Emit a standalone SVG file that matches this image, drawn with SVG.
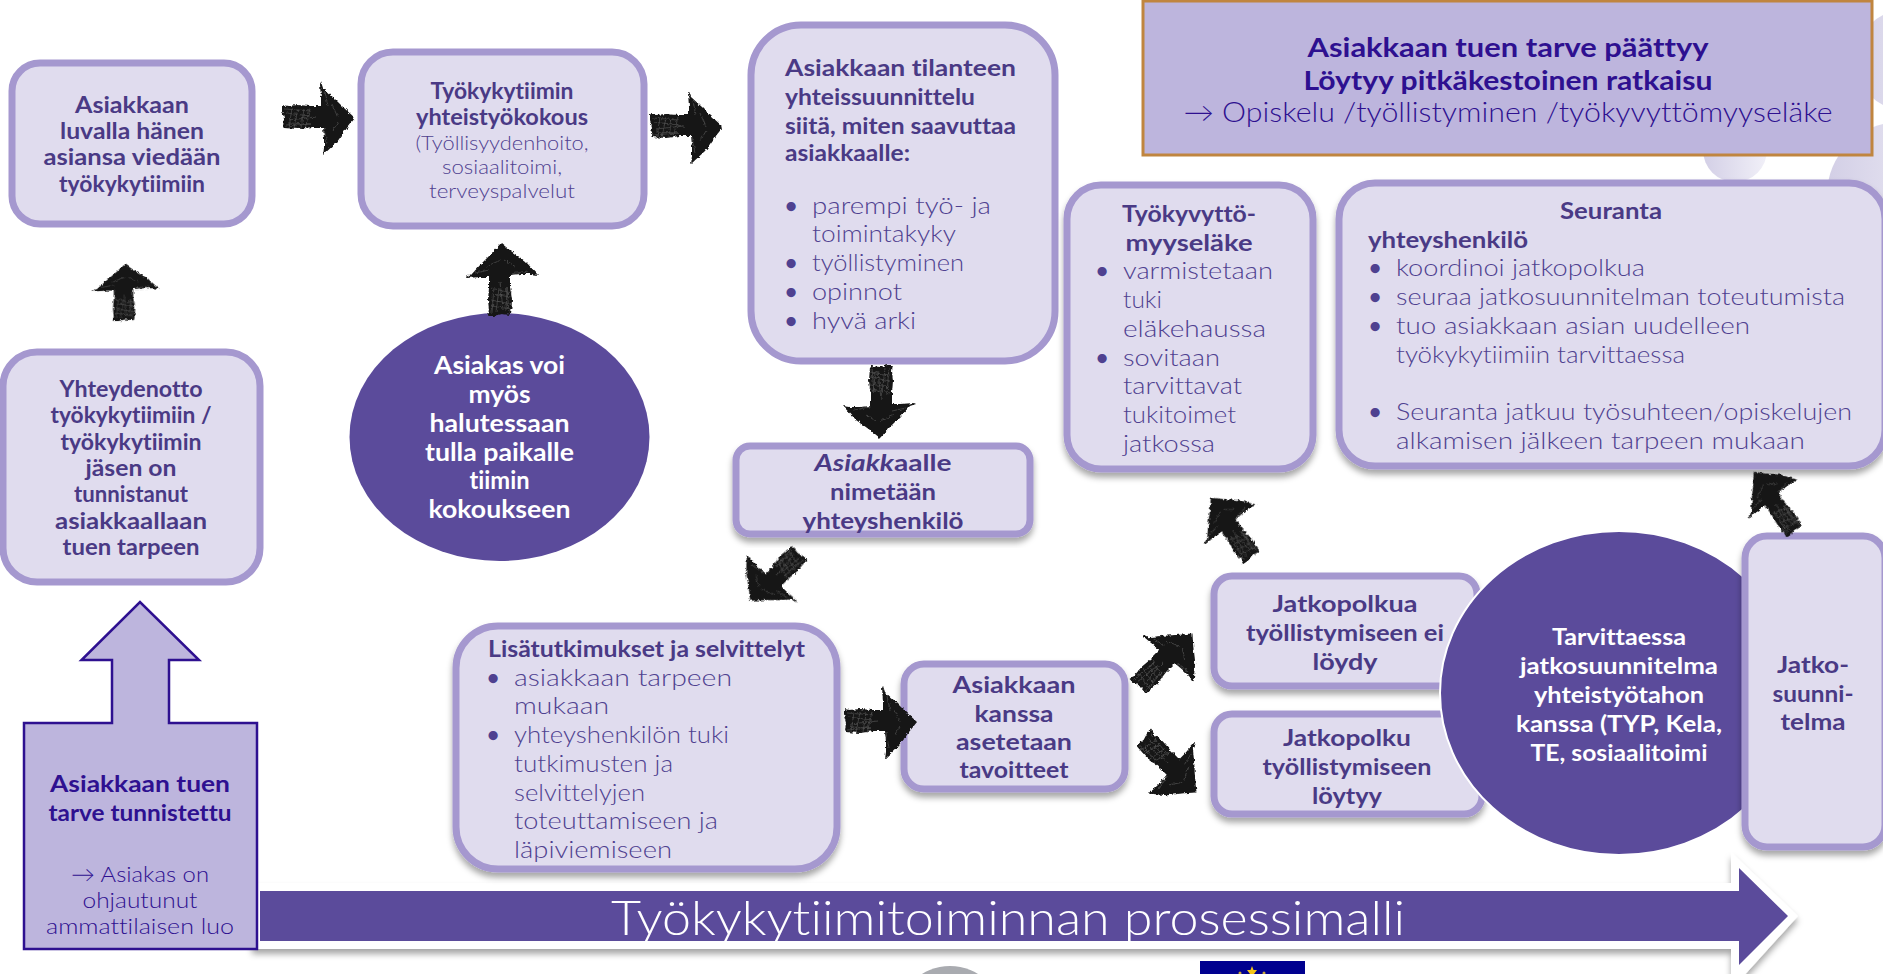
<svg xmlns="http://www.w3.org/2000/svg" width="1883" height="974" viewBox="0 0 1883 974">
<style>
text{font-family:"Lato","Liberation Sans",sans-serif;font-size:22px;fill:#4f4190;font-variant-ligatures:none}
.b{font-weight:700;fill:#4a3a85}
.l{font-weight:300}
.t{font-size:23.500px}
.s{font-size:20px}
.m{text-anchor:middle}
.w{font-weight:700;fill:#fff;font-size:24px}
.u{font-size:21px;font-weight:700}
.d{fill:#2e1090}
.box{fill:#e0dcee;stroke:#a598cf;stroke-width:7}
.el{fill:#5b4b9b}
.pa{fill:#bdb5dd;stroke:#2e1090;stroke-width:2.500}
</style>
<defs>
<filter id="sh" x="-10%" y="-10%" width="120%" height="125%"><feDropShadow dx="0" dy="5" stdDeviation="3" flood-color="#000" flood-opacity=".35"/></filter>
<filter id="rough" filterUnits="userSpaceOnUse" x="0" y="0" width="1883" height="974"><feTurbulence type="fractalNoise" baseFrequency=".3" numOctaves="2" seed="4"/><feDisplacementMap in="SourceGraphic" scale="4" xChannelSelector="R" yChannelSelector="G"/></filter>
<linearGradient id="dec" x1="0" x2="1" y1="0" y2="0"><stop offset="0" stop-color="#d3cfe6"/><stop offset="1" stop-color="#f1f0f8"/></linearGradient>
<g id="sk">
<path fill="#171717" d="M-36-13l6 1 10-1 12 1 11 0 0-8-1-14 1-2 2 6 11 10 9 9 12 11-8 10-10 14-14 13 1-7 0-10-1-11-11 0-14 2-14-1-1-1 1-9-2-7z"/>
<path fill="none" stroke="#5a5a5a" stroke-width=".6" d="M-33-9l26 2M-32-5l24 3M-30 2l28-3M-33 8l25-2M-30 5l22 1M-26-10l-3 20M-20-10l-4 20M-14-9l-3 19M-8-10l-5 21M7-26l3 14M6 10l3 16M14-14l6 14M14 14l6-10"/>
</g>
</defs>
<rect width="1883" height="974" fill="#fff"/>
<g id="decor" fill="url(#dec)">
<circle cx="1735" cy="150" r="32"/>
<circle cx="1900" cy="195" r="73"/>
<circle cx="1905" cy="60" r="50"/>
</g>
<g id="bottom">
<circle cx="950" cy="1019" r="53" fill="#a9abb0"/>
<rect x="1200" y="961" width="105" height="13" fill="#00008f"/>
<polygon points="1252,966 1253.500,970 1257,970 1254,974 1250,974 1247,970 1250.500,970" fill="#f5c518"/>
<circle cx="1240" cy="973" r="1.500" fill="#c9a83a"/>
<circle cx="1264" cy="973" r="1.500" fill="#c9a83a"/>
</g>
<g id="process-arrow">
<polygon points="252,883 1731,883 1731,852 1798,916 1731,990 1731,949 252,949" fill="#fff" filter="url(#sh)"/>
<polygon points="260,891 1739,891 1739,868 1788,916 1739,965 1739,941 260,941" fill="#5b4b9b"/>
<text x="1008" y="935" class="l m" style="font-size:47px;fill:#fff" textLength="794" lengthAdjust="spacingAndGlyphs">Työkykytiimitoiminnan prosessimalli</text>
</g>
<g id="n-need">
<polygon class="pa" points="24,723 112,723 112,660 81.500,660 140,602 199,660 169,660 169,723 257,723 257,949 24,949"/>
<text x="140" y="792" class="b m t" style="fill:#2e1090" textLength="180" lengthAdjust="spacingAndGlyphs">Asiakkaan tuen</text>
<text x="140" y="821" class="b m t" style="fill:#2e1090" textLength="183" lengthAdjust="spacingAndGlyphs">tarve tunnistettu</text>
<text x="140" y="882" class="l m" style="fill:#2e1090" textLength="138" lengthAdjust="spacingAndGlyphs">→ Asiakas on</text>
<text x="140" y="908" class="l m" style="fill:#2e1090" textLength="115" lengthAdjust="spacingAndGlyphs">ohjautunut</text>
<text x="140" y="934" class="l m" style="fill:#2e1090" textLength="188" lengthAdjust="spacingAndGlyphs">ammattilaisen luo</text>
</g>
<g id="n-end">
<rect x="1143" y="1" width="729" height="154" fill="#bdb5dd" stroke="#c0853f" stroke-width="3"/>
<text x="1508" y="57" class="b m" style="font-size:27px;fill:#2e1090" textLength="401" lengthAdjust="spacingAndGlyphs">Asiakkaan tuen tarve päättyy</text>
<text x="1508" y="90" class="b m" style="font-size:27px;fill:#2e1090" textLength="409" lengthAdjust="spacingAndGlyphs">Löytyy pitkäkestoinen ratkaisu</text>
<text x="1508" y="122" class="l m" style="font-size:27px;fill:#2e1090" textLength="649" lengthAdjust="spacingAndGlyphs">→ Opiskelu /työllistyminen /työkyvyttömyyseläke</text>
</g>
<g id="n-a">
<rect class="box" x="12" y="63" width="240" height="161" rx="28"/>
<text x="132" y="113" class="b m" textLength="114" lengthAdjust="spacingAndGlyphs">Asiakkaan</text>
<text x="132" y="139" class="b m" textLength="144" lengthAdjust="spacingAndGlyphs">luvalla hänen</text>
<text x="132" y="165" class="b m" textLength="177" lengthAdjust="spacingAndGlyphs">asiansa viedään</text>
<text x="132" y="192" class="b m" textLength="146" lengthAdjust="spacingAndGlyphs">työkykytiimiin</text>
</g>
<g id="n-b">
<rect class="box" x="361" y="52" width="283" height="174" rx="32"/>
<text x="502" y="99" class="b m" textLength="143" lengthAdjust="spacingAndGlyphs">Työkykytiimin</text>
<text x="502" y="125" class="b m" textLength="172" lengthAdjust="spacingAndGlyphs">yhteistyökokous</text>
<text x="502" y="150" class="l m s" textLength="173" lengthAdjust="spacingAndGlyphs">(Työllisyydenhoito,</text>
<text x="502" y="174" class="l m s" textLength="120" lengthAdjust="spacingAndGlyphs">sosiaalitoimi,</text>
<text x="502" y="198" class="l m s" textLength="146" lengthAdjust="spacingAndGlyphs">terveyspalvelut</text>
</g>
<g id="n-c">
<rect class="box" x="751" y="25" width="304" height="336" rx="50"/>
<text x="785" y="76" class="b t" textLength="231" lengthAdjust="spacingAndGlyphs">Asiakkaan tilanteen</text>
<text x="785" y="105" class="b t" textLength="190" lengthAdjust="spacingAndGlyphs">yhteissuunnittelu</text>
<text x="785" y="134" class="b t" textLength="231" lengthAdjust="spacingAndGlyphs">siitä, miten saavuttaa</text>
<text x="785" y="161" class="b t" textLength="125" lengthAdjust="spacingAndGlyphs">asiakkaalle:</text>
<text x="785" y="213" class="u">•</text>
<text x="812" y="214" class="l t" textLength="179" lengthAdjust="spacingAndGlyphs">parempi työ- ja</text>
<text x="812" y="242" class="l t" textLength="144" lengthAdjust="spacingAndGlyphs">toimintakyky</text>
<text x="785" y="270" class="u">•</text>
<text x="812" y="271" class="l t" textLength="152" lengthAdjust="spacingAndGlyphs">työllistyminen</text>
<text x="785" y="299" class="u">•</text>
<text x="812" y="300" class="l t" textLength="90" lengthAdjust="spacingAndGlyphs">opinnot</text>
<text x="785" y="328" class="u">•</text>
<text x="812" y="329" class="l t" textLength="104" lengthAdjust="spacingAndGlyphs">hyvä arki</text>
</g>
<g id="n-d">
<rect class="box" x="3" y="352" width="257" height="230" rx="34"/>
<text x="131" y="397" class="b m" textLength="143" lengthAdjust="spacingAndGlyphs">Yhteydenotto</text>
<text x="131" y="423" class="b m" textLength="161" lengthAdjust="spacingAndGlyphs">työkykytiimiin /</text>
<text x="131" y="450" class="b m" textLength="141" lengthAdjust="spacingAndGlyphs">työkykytiimin</text>
<text x="131" y="476" class="b m" textLength="91" lengthAdjust="spacingAndGlyphs">jäsen on</text>
<text x="131" y="502" class="b m" textLength="114" lengthAdjust="spacingAndGlyphs">tunnistanut</text>
<text x="131" y="529" class="b m" textLength="152" lengthAdjust="spacingAndGlyphs">asiakkaallaan</text>
<text x="131" y="555" class="b m" textLength="137" lengthAdjust="spacingAndGlyphs">tuen tarpeen</text>
</g>
<g id="n-visit">
<ellipse class="el" cx="499.500" cy="437" rx="150" ry="124"/>
<text x="499.500" y="374" class="w m" textLength="131" lengthAdjust="spacingAndGlyphs">Asiakas voi</text>
<text x="499.500" y="403" class="w m" textLength="62" lengthAdjust="spacingAndGlyphs">myös</text>
<text x="499.500" y="432" class="w m" textLength="140" lengthAdjust="spacingAndGlyphs">halutessaan</text>
<text x="499.500" y="461" class="w m" textLength="149" lengthAdjust="spacingAndGlyphs">tulla paikalle</text>
<text x="499.500" y="489" class="w m" textLength="60" lengthAdjust="spacingAndGlyphs">tiimin</text>
<text x="499.500" y="518" class="w m" textLength="142" lengthAdjust="spacingAndGlyphs">kokoukseen</text>
</g>
<g id="n-e">
<rect class="box" x="736" y="446" width="294" height="88" rx="14" filter="url(#sh)"/>
<text x="883" y="471" class="b m t" textLength="137" lengthAdjust="spacingAndGlyphs"><tspan font-style="italic">Asiakk</tspan>aalle</text>
<text x="883" y="500" class="b m t" textLength="106" lengthAdjust="spacingAndGlyphs">nimetään</text>
<text x="883" y="529" class="b m t" textLength="161" lengthAdjust="spacingAndGlyphs">yhteyshenkilö</text>
</g>
<g id="n-f">
<rect class="box" x="456" y="626" width="381" height="243" rx="42" filter="url(#sh)"/>
<text x="488" y="657" class="b" textLength="317" lengthAdjust="spacingAndGlyphs">Lisätutkimukset ja selvittelyt</text>
<text x="487" y="685" class="u">•</text>
<text x="514" y="686" class="l t" textLength="218" lengthAdjust="spacingAndGlyphs">asiakkaan tarpeen</text>
<text x="514" y="714" class="l t" textLength="95" lengthAdjust="spacingAndGlyphs">mukaan</text>
<text x="487" y="742" class="u">•</text>
<text x="514" y="743" class="l t" textLength="215" lengthAdjust="spacingAndGlyphs">yhteyshenkilön tuki</text>
<text x="514" y="772" class="l t" textLength="159" lengthAdjust="spacingAndGlyphs">tutkimusten ja</text>
<text x="514" y="801" class="l t" textLength="131" lengthAdjust="spacingAndGlyphs">selvittelyjen</text>
<text x="514" y="829" class="l t" textLength="204" lengthAdjust="spacingAndGlyphs">toteuttamiseen ja</text>
<text x="514" y="858" class="l t" textLength="158" lengthAdjust="spacingAndGlyphs">läpiviemiseen</text>
</g>
<g id="n-g">
<rect class="box" x="904" y="664" width="221" height="125" rx="20" filter="url(#sh)"/>
<text x="1014" y="693" class="b m t" textLength="123" lengthAdjust="spacingAndGlyphs">Asiakkaan</text>
<text x="1014" y="722" class="b m t" textLength="79" lengthAdjust="spacingAndGlyphs">kanssa</text>
<text x="1014" y="750" class="b m t" textLength="116" lengthAdjust="spacingAndGlyphs">asetetaan</text>
<text x="1014" y="778" class="b m t" textLength="109" lengthAdjust="spacingAndGlyphs">tavoitteet</text>
</g>
<g id="n-h">
<rect class="box" x="1214" y="576" width="263" height="110" rx="18" filter="url(#sh)"/>
<text x="1345" y="612" class="b m t" textLength="145" lengthAdjust="spacingAndGlyphs">Jatkopolkua</text>
<text x="1345" y="641" class="b m t" textLength="198" lengthAdjust="spacingAndGlyphs">työllistymiseen ei</text>
<text x="1345" y="670" class="b m t" textLength="65" lengthAdjust="spacingAndGlyphs">löydy</text>
</g>
<g id="n-i">
<rect class="box" x="1214" y="714" width="268" height="100" rx="18" filter="url(#sh)"/>
<text x="1347" y="746" class="b m t" textLength="128" lengthAdjust="spacingAndGlyphs">Jatkopolku</text>
<text x="1347" y="775" class="b m t" textLength="169" lengthAdjust="spacingAndGlyphs">työllistymiseen</text>
<text x="1347" y="804" class="b m t" textLength="70" lengthAdjust="spacingAndGlyphs">löytyy</text>
</g>
<g id="n-j">
<ellipse class="el" cx="1619" cy="693" rx="179" ry="162" stroke="#fff" stroke-width="2"/>
<text x="1619" y="645" class="w m" style="font-size:23.500px" textLength="134" lengthAdjust="spacingAndGlyphs">Tarvittaessa</text>
<text x="1619" y="674" class="w m" style="font-size:23.500px" textLength="198" lengthAdjust="spacingAndGlyphs">jatkosuunnitelma</text>
<text x="1619" y="703" class="w m" style="font-size:23.500px" textLength="170" lengthAdjust="spacingAndGlyphs">yhteistyötahon</text>
<text x="1619" y="732" class="w m" style="font-size:23.500px" textLength="206" lengthAdjust="spacingAndGlyphs">kanssa (TYP, Kela,</text>
<text x="1619" y="761" class="w m" style="font-size:23.500px" textLength="177" lengthAdjust="spacingAndGlyphs">TE, sosiaalitoimi</text>
</g>
<g id="n-k">
<rect class="box" x="1745" y="536" width="140" height="311" rx="22" filter="url(#sh)"/>
<text x="1813" y="673" class="b m t" textLength="72" lengthAdjust="spacingAndGlyphs">Jatko-</text>
<text x="1813" y="702" class="b m t" textLength="81" lengthAdjust="spacingAndGlyphs">suunni-</text>
<text x="1813" y="730" class="b m t" textLength="65" lengthAdjust="spacingAndGlyphs">telma</text>
</g>
<g id="n-l">
<rect class="box" x="1067" y="185" width="246" height="284" rx="34" filter="url(#sh)"/>
<text x="1189" y="222" class="b m t" textLength="134" lengthAdjust="spacingAndGlyphs">Työkyvyttö-</text>
<text x="1189" y="251" class="b m t" textLength="127" lengthAdjust="spacingAndGlyphs">myyseläke</text>
<text x="1096" y="278" class="u">•</text>
<text x="1123" y="279" class="l t" textLength="150" lengthAdjust="spacingAndGlyphs">varmistetaan</text>
<text x="1123" y="308" class="l t" textLength="39" lengthAdjust="spacingAndGlyphs">tuki</text>
<text x="1123" y="337" class="l t" textLength="143" lengthAdjust="spacingAndGlyphs">eläkehaussa</text>
<text x="1096" y="365" class="u">•</text>
<text x="1123" y="366" class="l t" textLength="97" lengthAdjust="spacingAndGlyphs">sovitaan</text>
<text x="1123" y="394" class="l t" textLength="119" lengthAdjust="spacingAndGlyphs">tarvittavat</text>
<text x="1123" y="423" class="l t" textLength="113" lengthAdjust="spacingAndGlyphs">tukitoimet</text>
<text x="1123" y="452" class="l t" textLength="92" lengthAdjust="spacingAndGlyphs">jatkossa</text>
</g>
<g id="n-m">
<rect class="box" x="1339" y="183" width="546" height="283" rx="36" filter="url(#sh)"/>
<text x="1611" y="219" class="b m t" textLength="102" lengthAdjust="spacingAndGlyphs">Seuranta</text>
<text x="1368" y="248" class="b t" textLength="160" lengthAdjust="spacingAndGlyphs">yhteyshenkilö</text>
<text x="1369" y="275" class="u">•</text>
<text x="1396" y="276" class="l t" textLength="249" lengthAdjust="spacingAndGlyphs">koordinoi jatkopolkua</text>
<text x="1369" y="304" class="u">•</text>
<text x="1396" y="305" class="l t" textLength="449" lengthAdjust="spacingAndGlyphs">seuraa jatkosuunnitelman toteutumista</text>
<text x="1369" y="333" class="u">•</text>
<text x="1396" y="334" class="l t" textLength="354" lengthAdjust="spacingAndGlyphs">tuo asiakkaan asian uudelleen</text>
<text x="1396" y="363" class="l t" textLength="289" lengthAdjust="spacingAndGlyphs">työkykytiimiin tarvittaessa</text>
<text x="1369" y="419" class="u">•</text>
<text x="1396" y="420" class="l t" textLength="456" lengthAdjust="spacingAndGlyphs">Seuranta jatkuu työsuhteen/opiskelujen</text>
<text x="1396" y="449" class="l t" textLength="409" lengthAdjust="spacingAndGlyphs">alkamisen jälkeen tarpeen mukaan</text>
</g>
<g id="connectors" filter="url(#rough)">
<use href="#sk" transform="translate(318 118)"/>
<use href="#sk" transform="translate(686 127)"/>
<use href="#sk" transform="translate(125 293) rotate(-90) scale(.78 .93)"/>
<use href="#sk" transform="translate(501 280) rotate(-90)"/>
<use href="#sk" transform="translate(880 401) rotate(90)"/>
<use href="#sk" transform="translate(775 576) rotate(135) scale(.95)"/>
<use href="#sk" transform="translate(880 722)"/>
<use href="#sk" transform="translate(1165 661) rotate(-45) scale(1.05 .95)"/>
<use href="#sk" transform="translate(1169 765) rotate(45) scale(1.05 .95)"/>
<use href="#sk" transform="translate(1232 528) rotate(-125) scale(1 .9)"/>
<use href="#sk" transform="translate(1775 502) rotate(-125) scale(1 .85)"/>
</g>
</svg>
